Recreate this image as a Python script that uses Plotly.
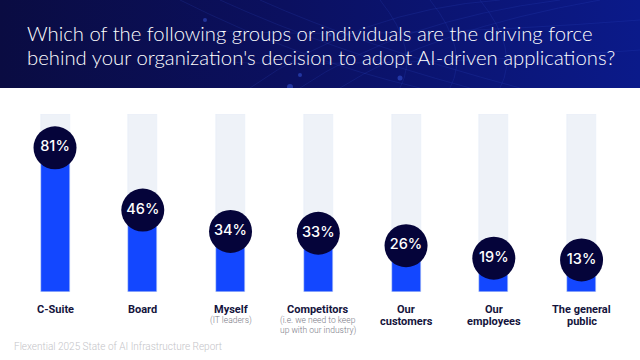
import plotly.graph_objects as go
import base64

# ---- data ----
categories = ["C-Suite", "Board", "Myself", "Competitors", "Our customers", "Our employees", "The general public"]
values = [81, 46, 34, 33, 26, 19, 13]
label_lines = [["C-Suite"], ["Board"], ["Myself"], ["Competitors"], ["Our", "customers"], ["Our", "employees"], ["The general", "public"]]
sub_lines = [[], [], ["(IT leaders)"], ["(i.e. we need to keep", "up with our industry)"], [], [], []]
title_lines = ["Which of the following groups or individuals are the driving force",
               "behind your organization's decision to adopt AI-driven applications?"]
source_text = "Flexential 2025 State of AI Infrastructure Report"

W, H = 640, 360
def py(px):  # pixel-from-top -> paper y
    return (H - px) / H

BLUE = "#1347ff"
TRACK = "#eef2f8"
NAVY = "#05043a"

fig = go.Figure()
x = list(range(len(categories)))
fig.add_trace(go.Bar(x=x, y=[100] * len(x), marker_color=TRACK, width=0.33, hoverinfo="skip"))
fig.add_trace(go.Bar(x=x, y=values, marker_color=BLUE, width=0.33, hoverinfo="skip"))
fig.add_trace(go.Scatter(
    x=x, y=[max(v, 18) for v in values], mode="markers+text",
    marker=dict(size=43, color=NAVY, line=dict(width=0)),
    text=[f"{v}%" for v in values], textposition="middle center",
    textfont=dict(color="white", size=14.5, family="Inter", weight=500),
    hoverinfo="skip"))

# header gradient
svg = ('<svg xmlns="http://www.w3.org/2000/svg" width="640" height="88" viewBox="0 0 640 88">'
       '<defs><linearGradient id="g" x1="0" y1="0" x2="1" y2="0">'
       '<stop offset="0" stop-color="#0a0c42"/><stop offset="0.45" stop-color="#0b1060"/>'
       '<stop offset="1" stop-color="#0b1a8a"/></linearGradient></defs>'
       '<rect width="640" height="88" fill="url(#g)"/>'
       '<g fill="none" stroke="#3550d0" stroke-opacity="0.25" stroke-width="0.7">'
       '<path d="M180 0 Q300 60 420 88"/><path d="M220 0 Q330 50 470 88"/>'
       '<path d="M260 0 Q360 45 520 88"/><path d="M300 88 Q400 20 560 0"/>'
       '<path d="M340 88 Q430 30 600 0"/><path d="M250 88 Q360 10 500 0"/>'
       '<path d="M380 0 Q420 50 400 88"/><path d="M430 0 Q470 50 450 88"/>'
       '<path d="M480 0 Q520 50 500 88"/><path d="M200 30 Q380 40 640 20"/>'
       '<path d="M150 60 Q380 70 640 50"/></g>'
       '<g fill="#3a5ae0" fill-opacity="0.5"><circle cx="205" cy="20" r="2"/>'
       '<circle cx="300" cy="75" r="2"/><circle cx="400" cy="78" r="2.5"/>'
       '<circle cx="330" cy="35" r="1.5"/><circle cx="290" cy="87" r="3"/></g>'
       '</svg>')
src = "data:image/svg+xml;base64," + base64.b64encode(svg.encode()).decode()

annotations = []
for i, line in enumerate(title_lines):
    annotations.append(dict(x=25 / W, y=py(33 + 24 * i), xref="paper", yref="paper",
                            text=line, showarrow=False, xanchor="left", yanchor="middle",
                            font=dict(family="Lato", size=20.3, color="white", weight=300)))

for i in range(len(categories)):
    row = 0
    for t in label_lines[i]:
        annotations.append(dict(x=i, y=py(309 + 12.5 * row), xref="x", yref="paper", text=t,
                                showarrow=False, xanchor="center", yanchor="middle",
                                font=dict(family="Roboto", size=11, color="#14143c", weight=700)))
        row += 1
    for j, t in enumerate(sub_lines[i]):
        annotations.append(dict(x=i, y=py(320 + 10.5 * j), xref="x", yref="paper", text=t,
                                showarrow=False, xanchor="center", yanchor="middle",
                                font=dict(family="Roboto", size=8.5, color="#7a7a86", weight=300)))

annotations.append(dict(x=12 / W, y=py(346), xref="paper", yref="paper", text=source_text,
                        showarrow=False, xanchor="left", yanchor="middle",
                        font=dict(family="Roboto", size=10, color="#c4c4c8", weight=300)))

fig.update_layout(
    width=W, height=H, margin=dict(l=0, r=0, t=0, b=0),
    paper_bgcolor="white", plot_bgcolor="white",
    barmode="overlay", showlegend=False, bargap=0,
    xaxis=dict(range=[-0.627, 6.666], visible=False, fixedrange=True),
    yaxis=dict(range=[0, 100], domain=[py(292), py(114)], visible=False, fixedrange=True),
    images=[dict(source=src, xref="paper", yref="paper", x=0, y=1, sizex=1, sizey=88 / H,
                 xanchor="left", yanchor="top", sizing="stretch", layer="below")],
    annotations=annotations,
)

fig.write_html("out.html", config={"displayModeBar": False},
               post_script="document.body.style.margin='0';document.body.style.overflow='hidden';")
